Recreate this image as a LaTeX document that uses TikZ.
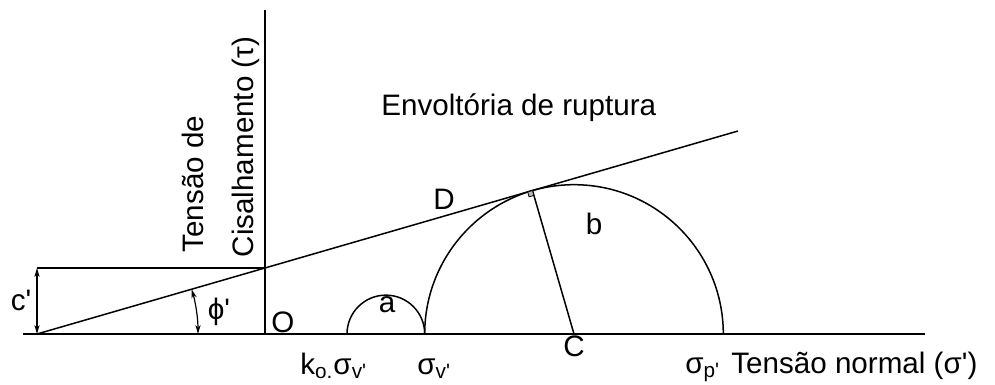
\documentclass[tikz,border=0pt]{standalone}
\usepackage{fontspec}
\setmainfont{Liberation Sans}
\usetikzlibrary{arrows.meta,calc}
\newcommand{\apos}{\textquotesingle}
\tikzset{
  lbl/.style={font=\fontsize{14.8}{17}\selectfont,inner sep=0pt},
  ln/.style={line width=0.75pt,color=black},
  dimarr/.style={line width=0.6pt,
                 {Stealth[length=4.5pt,width=2.6pt]}-{Stealth[length=4.5pt,width=2.6pt]}},
}

\begin{document}
\begin{tikzpicture}[x=0.5pt,y=-0.5pt]
  \useasboundingbox (0,0) rectangle (995,385);

  % axes
  \coordinate (Xl) at (23,334);
  \coordinate (Xr) at (925,334);
  \coordinate (O)  at (265,334);
  \coordinate (Yt) at (265,10);
  \draw[ln] (Xl) -- (Xr);
  \draw[ln] (O) -- (Yt);

  % envelope and cohesion
  \coordinate (A)  at (37,334);
  \coordinate (Ci) at (265,268);
  \coordinate (Cl) at (37,268);
  \coordinate (Ee) at (738,131);
  \draw[ln] (A) -- (Ee);
  \draw[ln] (Cl) -- (Ci);
  \draw[dimarr] (Cl) -- (A);
  \draw[dimarr] ($(A)+(161,0)$) arc[start angle=0,end angle=-16.14,radius=161];

  % circles
  \coordinate (Ka) at (347,334);
  \coordinate (Sv) at (424.7,334);
  \coordinate (C)  at (574,334);
  \coordinate (T)  at (532.5,190.6);
  \draw[ln] (Ka) arc[start angle=180,end angle=360,radius=38.85];
  \draw[ln] (Sv) arc[start angle=180,end angle=360,radius=149.3];
  \draw[ln] (C) -- (T);
  \draw[line width=0.4pt,fill=gray!55] (T) -- ++(-4.8,1.4) -- ++(1.4,4.8) -- ++(4.8,-1.4) -- cycle;

  % labels
  \node[lbl,anchor=base west] (env) at (381,116) {Envoltória de ruptura};
  \node[lbl,rotate=90,anchor=base] (ylab1) at (203,184) {Tensão de};
  \node[lbl,rotate=90,anchor=base] (ylab2) at (253,147) {Cisalhamento (τ)};
  \node[lbl] (cl) at (21,300) {c\apos};
  \node[lbl] (phl) at (219,312) {ϕ\apos};
  \node[lbl] (ol) at (283,322) {O};
  \node[lbl] (al) at (387,305) {a};
  \node[lbl] (bl) at (594,224) {b};
  \node[lbl] (dl) at (444,199) {D};
  \node[lbl] (cc) at (574,346) {C};
  \node[lbl,anchor=base west] (k0) at (300,374) {k\textsubscript{o.}σ\textsubscript{v\apos}};
  \node[lbl,anchor=base west] (sv) at (417,374) {σ\textsubscript{v\apos}};
  \node[lbl,anchor=base west] (sp) at (685,373) {σ\textsubscript{p\apos}};
  \node[lbl,anchor=base west] (xlab) at (731,373) {Tensão normal (σ\apos)};
\end{tikzpicture}
\end{document}
